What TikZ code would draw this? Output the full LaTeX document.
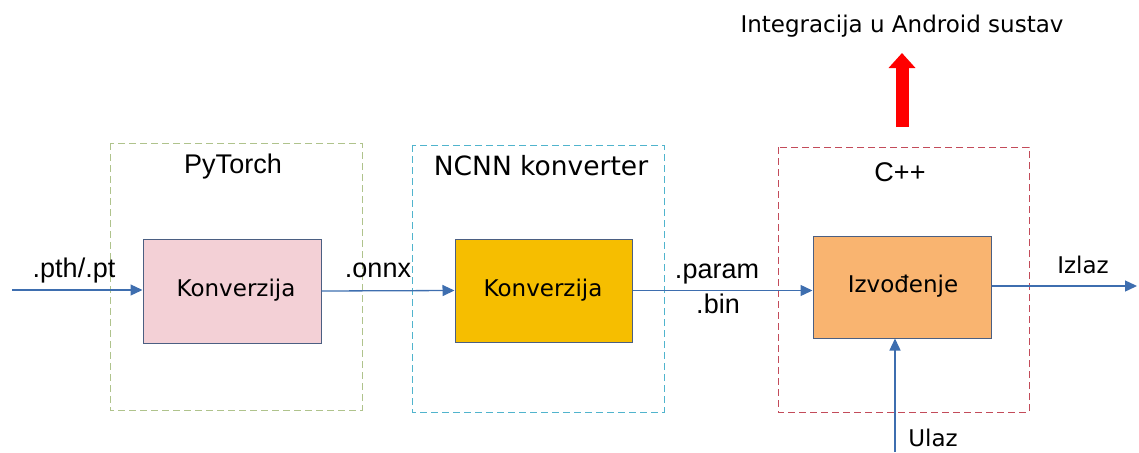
\documentclass[tikz,border=0pt]{standalone}
\usepackage{fontspec}
\setmainfont{Liberation Sans}
\newfontfamily\vfont{DejaVu Sans}
\usepackage{tikz}
\usetikzlibrary{arrows.meta}
\usepackage{xcolor}
\definecolor{flow}{RGB}{62,110,175}
\definecolor{edge}{RGB}{75,95,130}
\definecolor{pinkbox}{RGB}{243,208,214}
\definecolor{goldbox}{RGB}{246,190,0}
\definecolor{orangebox}{RGB}{249,180,112}
\definecolor{greenline}{RGB}{175,195,140}
\definecolor{cyanline}{RGB}{80,180,205}
\definecolor{redline}{RGB}{195,75,90}
\begin{document}
\begin{tikzpicture}[x=1pt,y=-1pt,
  group/.style={draw,line width=1pt,dash pattern=on 7pt off 4pt},
  stage/.style={draw=edge,line width=1pt,minimum width=178pt,minimum height=104pt,inner sep=0pt},
  big/.style={font=\fontsize{27}{30}\selectfont,anchor=base,inner sep=0pt},
  small/.style={font=\vfont\fontsize{23}{26}\selectfont,anchor=base,inner sep=0pt},
  flowline/.style={flow,line width=1.3pt,-{Triangle[length=12pt,width=11pt]}}]
  \useasboundingbox (0,0) rectangle (1139,452);

  \draw[group,greenline] (110,143) rectangle (362,410);
  \draw[group,cyanline] (412,145) rectangle (664,412);
  \draw[group,redline] (778,147) rectangle (1029,412);
  \node[big] (pytorch) at (233,173) {PyTorch};
  \node[big,font=\vfont\fontsize{26.5}{30}\selectfont] (ncnn) at (541,175) {NCNN konverter};
  \node[big] (cpp) at (900,181) {C++};

  \node[stage,fill=pinkbox] (conv1) at (232,291) {};
  \node[stage,fill=goldbox,minimum width=177pt,minimum height=103pt] (conv2) at (543.5,290.5) {};
  \node[stage,fill=orangebox,minimum height=102pt] (run) at (902,287) {};
  \node[small] at (236,296) {Konverzija};
  \node[small] at (543,296) {Konverzija};
  \node[small] at (903,292) {Izvođenje};

  \coordinate (in) at (12,290);
  \coordinate (out) at (1137,286);
  \coordinate (ulazin) at (895,452);
  \draw[flowline] (in) -- (in -| conv1.west);
  \draw[flowline] (conv1.east) -- (conv2.west);
  \draw[flowline] (conv2.east) -- (conv2.east -| run.west);
  \draw[flowline] (run.east |- out) -- (out);
  \draw[flowline] (ulazin) -- (ulazin |- run.south);

  \node[big] (pth) at (74,277) {.pth/.pt};
  \node[big] (onnx) at (378,277) {.onnx};
  \node[big] (param) at (717,278) {.param};
  \node[big] (bin) at (718,313) {.bin};
  \node[small] (izlaz) at (1083,273) {Izlaz};
  \node[small] (ulaz) at (933,446) {Ulaz};

  \coordinate (up0) at (902,127);
  \coordinate (up1) at (902,53);
  \draw[red,line width=13pt,-{Triangle[length=15pt,width=26pt]}] (up0) -- (up1);
  \node[small] (android) at (902,33) {Integracija u Android sustav};
\end{tikzpicture}
\end{document}
